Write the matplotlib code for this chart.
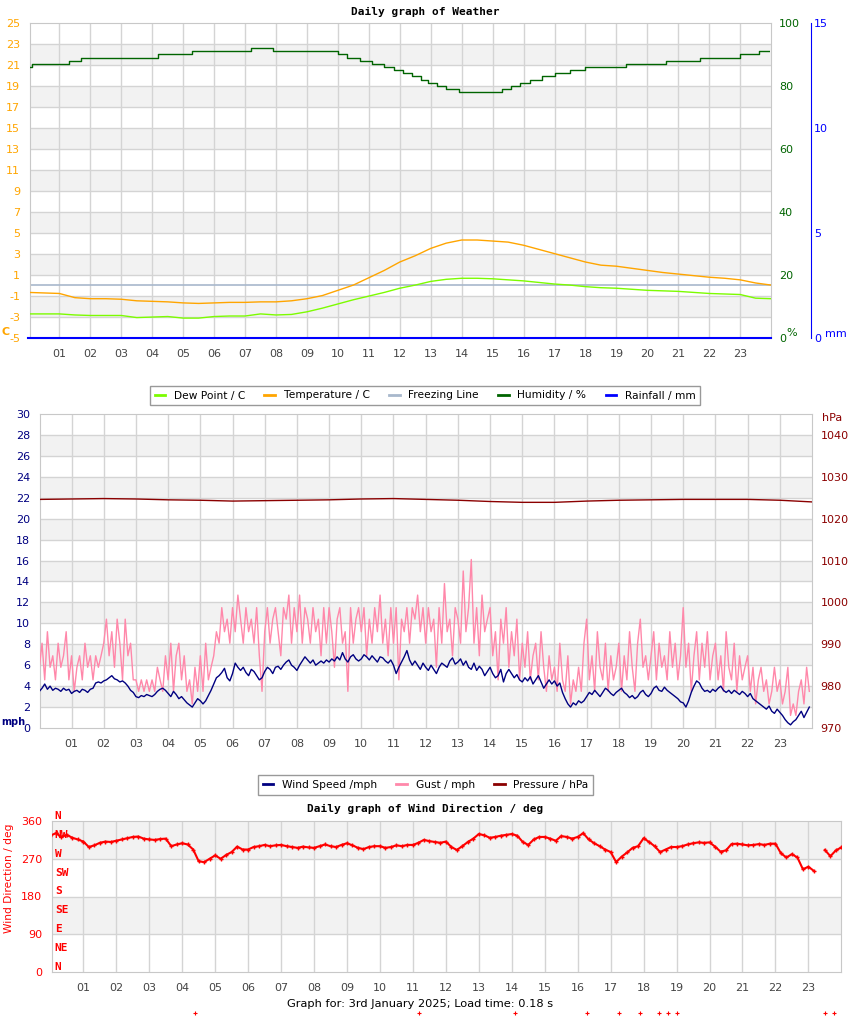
import numpy as np
import matplotlib
matplotlib.use("Agg")
from matplotlib import pyplot as plt
from matplotlib.lines import Line2D

plt.rcParams["axes.unicode_minus"] = False
W, H = 850, 1017

# ---------------- data ----------------
hours_half = np.arange(49) / 2.0
temperature = [-0.7, -0.75, -0.8, -1.2, -1.3, -1.3, -1.35, -1.5, -1.55, -1.6, -1.7, -1.75,
               -1.7, -1.65, -1.65, -1.6, -1.6, -1.5, -1.3, -1.0, -0.5, 0.0, 0.7, 1.4,
               2.2, 2.8, 3.5, 4.0, 4.3, 4.3, 4.2, 4.1, 3.8, 3.4, 3.0, 2.6,
               2.2, 1.9, 1.8, 1.6, 1.4, 1.2, 1.05, 0.9, 0.75, 0.65, 0.5, 0.2, 0.0]
dew_point = [-2.75, -2.75, -2.75, -2.85, -2.9, -2.9, -2.9, -3.1, -3.05, -3.0, -3.15, -3.15,
             -3.0, -2.95, -2.95, -2.75, -2.85, -2.8, -2.55, -2.2, -1.8, -1.4, -1.05, -0.7,
             -0.3, 0.0, 0.35, 0.55, 0.65, 0.65, 0.6, 0.5, 0.4, 0.25, 0.1, 0.0,
             -0.15, -0.25, -0.3, -0.4, -0.5, -0.55, -0.6, -0.7, -0.8, -0.85, -0.9, -1.25, -1.3]

hum_time = [0.0, 0.1, 1.3, 1.7, 4.2, 5.3, 7.2, 7.9, 10.0, 10.3, 10.7, 11.1, 11.5, 11.8,
            12.1, 12.4, 12.7, 12.9, 13.2, 13.5, 13.9, 15.3, 15.6, 15.9, 16.2, 16.6,
            17.0, 17.5, 18.0, 19.3, 20.6, 21.7, 23.0, 23.6, 24.0]
humidity = [86, 87, 88, 89, 90, 91, 92, 91, 90, 89, 88, 87, 86, 85,
            84, 83, 82, 81, 80, 79, 78, 79, 80, 81, 82, 83,
            84, 85, 86, 87, 88, 89, 90, 91, 91]

rain_time = [0.0, 24.0]
rainfall = [0.0, 0.0]

hours_5min = np.arange(288) / 12.0
gust = [5.8, 8.1, 4.6, 9.2, 5.8, 6.9, 4.6, 8.1, 5.8, 6.9, 9.2, 4.6,
        6.9, 3.5, 5.8, 6.9, 4.6, 8.1, 5.8, 6.9, 4.6, 6.9, 5.8, 6.9,
        8.1, 10.4, 6.9, 9.2, 5.8, 10.4, 8.1, 4.6, 10.4, 6.9, 8.1, 4.6,
        4.6, 3.5, 4.6, 3.5, 4.6, 3.5, 4.6, 3.5, 5.8, 4.6, 3.5, 6.9,
        4.6, 8.1, 3.5, 6.9, 8.1, 4.6, 6.9, 3.5, 4.6, 2.3, 5.8, 3.5,
        6.9, 3.5, 8.1, 4.6, 5.8, 6.9, 9.2, 8.1, 11.5, 9.2, 10.4, 8.1,
        11.5, 9.2, 12.7, 10.4, 8.1, 11.5, 9.2, 10.4, 8.1, 11.5, 6.9, 3.5,
        9.2, 11.5, 8.1, 10.4, 11.5, 9.2, 6.9, 11.5, 10.4, 12.7, 8.1, 11.5,
        9.2, 12.7, 8.1, 11.5, 10.4, 8.1, 11.5, 9.2, 10.4, 6.9, 11.5, 8.1,
        11.5, 9.2, 5.8, 10.4, 11.5, 8.1, 9.2, 3.5, 11.5, 8.1, 10.4, 11.5,
        9.2, 11.5, 6.9, 10.4, 8.1, 11.5, 9.2, 12.7, 8.1, 10.4, 6.9, 11.5,
        8.1, 11.5, 4.6, 10.4, 9.2, 11.5, 8.1, 11.5, 10.4, 12.7, 9.2, 11.5,
        8.1, 11.5, 9.2, 10.4, 5.8, 11.5, 8.1, 13.8, 9.2, 10.4, 6.9, 11.5,
        10.4, 8.1, 15.0, 9.2, 11.5, 16.1, 8.1, 11.5, 6.9, 12.7, 9.2, 10.4,
        11.5, 6.9, 9.2, 4.6, 10.4, 8.1, 11.5, 5.8, 9.2, 6.9, 10.4, 4.6,
        8.1, 5.8, 9.2, 4.6, 6.9, 8.1, 4.6, 9.2, 5.8, 3.5, 6.9, 4.6,
        5.8, 3.5, 8.1, 4.6, 3.5, 6.9, 2.3, 4.6, 3.5, 5.8, 3.5, 8.1,
        10.4, 4.6, 6.9, 3.5, 9.2, 5.8, 4.6, 8.1, 3.5, 6.9, 4.6, 5.8,
        8.1, 3.5, 6.9, 4.6, 9.2, 5.8, 3.5, 8.1, 10.4, 5.8, 6.9, 4.6,
        6.9, 9.2, 4.6, 8.1, 5.8, 6.9, 4.6, 9.2, 5.8, 8.1, 4.6, 6.9,
        11.5, 5.8, 8.1, 3.5, 6.9, 9.2, 4.6, 8.1, 5.8, 9.2, 4.6, 6.9,
        8.1, 4.6, 6.9, 3.5, 9.2, 5.8, 4.6, 8.1, 3.5, 6.9, 4.6, 5.8,
        6.9, 3.5, 5.8, 2.3, 4.6, 5.8, 3.5, 4.6, 2.3, 3.5, 5.8, 3.5,
        4.6, 2.3, 3.5, 5.8, 1.2, 2.3, 1.2, 3.5, 4.6, 2.3, 5.8, 3.5]
wind_speed = [3.5, 3.8, 4.2, 3.7, 4.0, 3.6, 3.8, 3.7, 3.5, 3.8, 3.6, 3.7,
              3.3, 3.5, 3.6, 3.4, 3.7, 3.6, 3.4, 3.7, 3.8, 4.3, 4.4, 4.3,
              4.5, 4.6, 4.8, 5.0, 4.7, 4.6, 4.4, 4.5, 4.3, 4.0, 3.6, 3.4,
              3.0, 2.9, 3.1, 3.0, 3.2, 3.1, 3.0, 3.2, 3.5, 3.7, 3.8, 3.6,
              3.3, 3.0, 3.5, 3.2, 2.8, 3.0, 2.7, 2.4, 2.2, 2.0, 2.4, 2.8,
              2.6, 2.3, 2.6, 3.1, 3.6, 4.2, 4.8, 5.0, 5.3, 5.7, 4.8, 4.5,
              5.2, 6.2, 5.8, 5.5, 5.8, 5.3, 5.0, 5.6, 5.4, 5.0, 4.6, 4.8,
              5.4, 5.8, 5.6, 5.2, 5.8, 5.9, 5.6, 6.0, 6.3, 6.5, 6.0, 5.8,
              5.5, 6.0, 6.4, 6.8, 6.5, 6.2, 6.5, 6.0, 6.2, 6.4, 6.2, 6.5,
              6.3, 6.6, 6.4, 6.8, 6.5, 7.2, 6.6, 6.3, 6.8, 7.0, 6.6, 6.4,
              6.6, 7.0, 6.8, 6.5, 6.9, 6.6, 6.3, 6.8, 6.7, 6.4, 6.2, 6.5,
              6.0, 5.2, 5.8, 6.3, 6.8, 7.4, 6.5, 6.0, 6.4, 6.0, 5.6, 6.2,
              5.8, 5.5, 6.0, 5.6, 5.2, 5.8, 6.2, 6.0, 5.8, 6.4, 6.7, 6.1,
              6.3, 6.6, 6.0, 6.4, 5.8, 5.6, 6.2, 5.5, 5.9, 5.6, 5.0, 5.4,
              5.8, 5.2, 4.8, 5.0, 5.6, 4.4, 5.2, 5.6, 5.2, 4.8, 5.1, 4.6,
              4.4, 4.8, 4.5, 4.9, 4.2, 4.6, 5.0, 4.4, 3.8, 4.2, 4.6, 4.2,
              4.5, 4.0, 4.3, 3.4, 2.8, 2.3, 2.0, 2.4, 2.2, 2.6, 2.4, 2.6,
              3.0, 3.4, 3.2, 3.6, 3.3, 3.0, 3.4, 3.8, 3.6, 3.3, 3.1, 3.4,
              3.6, 3.8, 3.4, 3.2, 2.9, 3.1, 2.8, 3.0, 3.4, 3.6, 3.2, 3.0,
              3.3, 3.8, 4.0, 3.6, 3.5, 3.9, 3.6, 3.4, 3.2, 3.0, 2.8, 2.5,
              2.4, 2.0, 2.6, 3.4, 4.0, 4.5, 4.3, 3.8, 3.5, 3.6, 3.4, 3.7,
              3.5, 3.8, 4.0, 3.6, 3.4, 3.6, 3.3, 3.6, 3.4, 3.2, 3.5, 3.3,
              3.0, 3.3, 2.8, 2.6, 2.4, 2.2, 2.0, 1.8, 2.1, 1.6, 1.4, 1.8,
              1.5, 1.2, 0.8, 0.5, 0.3, 0.6, 0.8, 1.2, 1.6, 1.0, 1.5, 2.0]

hours_1h = np.arange(25)
pressure = [1024.6, 1024.7, 1024.8, 1024.7, 1024.5, 1024.4, 1024.2, 1024.3, 1024.4,
            1024.5, 1024.7, 1024.8, 1024.6, 1024.4, 1024.1, 1023.9, 1023.9, 1024.2,
            1024.4, 1024.5, 1024.6, 1024.6, 1024.6, 1024.4, 1024.0]

hours_10min = np.arange(145) / 6.0
wind_dir = [325, 331, 322, 327, 320, 316,
            311, 298, 302, 308, 311, 310,
            313, 316, 319, 322, 323, 318,
            316, 315, 317, 318, 300, 304,
            307, 304, 292, 264, 262, 270,
            278, 270, 279, 286, 299, 292,
            292, 298, 300, 303, 300, 302,
            303, 300, 298, 296, 299, 297,
            296, 300, 304, 300, 298, 303,
            307, 302, 296, 293, 298, 300,
            300, 296, 298, 302, 300, 303,
            303, 308, 315, 312, 310, 308,
            311, 298, 291, 300, 310, 318,
            329, 326, 320, 322, 325, 327,
            329, 325, 310, 303, 316, 322,
            322, 318, 313, 324, 322, 318,
            322, 331, 316, 307, 300, 292,
            286, 262, 275, 285, 296, 300,
            319, 310, 300, 286, 292, 298,
            298, 300, 304, 307, 309, 308,
            309, 299, 287, 290, 305, 306,
            304, 302, 303, 305, 303, 306,
            306, 283, 273, 281, 273, 245,
            251, 241, np.nan, 291, 276, 290,
            297]
# readings logged below the scale
odd_time = [4.39, 11.19, 14.1, 16.28, 17.26, 17.89, 18.47, 18.75, 19.02, 23.51, 23.78]
odd_dir = [-98] * len(odd_time)

hour_labels = ["%02d" % h for h in range(1, 24)]
compass = ["N", "NE", "E", "SE", "S", "SW", "W", "NW", "N"]

# ---------------- styles ----------------
GRID = "#d4d4d4"
BAND = "#f2f2f2"
FRAME = "#c8c8c8"
TICKC = "#444444"
FS = 8
LFS = 7.7
MONO = "DejaVu Sans Mono"


def box(l, t, r, b):
    return [l / W, 1 - b / H, (r - l) / W, (b - t) / H]


def base(ax, xlim, ylim, bands, lines):
    ax.set_xlim(*xlim)
    ax.set_ylim(*ylim)
    for lo, hi in bands:
        ax.axhspan(lo, hi, color=BAND, lw=0, zorder=0)
    for v in lines:
        ax.axhline(v, color=GRID, lw=1, zorder=0.5)
    for h in range(1, 24):
        ax.axvline(h, color=GRID, lw=1, zorder=0.5)
    for s in ax.spines.values():
        s.set_color(FRAME)
    ax.set_xticks(range(1, 24))
    ax.set_xticklabels(hour_labels, color=TICKC, fontsize=FS)
    ax.tick_params(axis="both", length=0)


fig = plt.figure(figsize=(W / 100, H / 100), dpi=100)

# ---------------- panel 1 : weather ----------------
ax1 = fig.add_axes(box(30, 23, 770.5, 337.5))
base(ax1, (0.05, 23.98), (-5, 25),
     [(lo, lo + 2) for lo in range(-3, 25, 4)], range(-3, 25, 2))
ax1.set_yticks(range(-5, 26, 2))
ax1.tick_params(axis="y", labelcolor="#ffa500", labelsize=FS, pad=7)
ax1.tick_params(axis="x", pad=8)
ax1.axhline(0, color="#a8b8cc", lw=1.2, zorder=2)
ax1.plot(hours_half, dew_point, color="#7cfc00", lw=1, zorder=3)
ax1.plot(hours_half, temperature, color="#ffa500", lw=1, zorder=3)

axh = ax1.twinx()
axh.set_ylim(0, 100)
axh.set_yticks(range(0, 101, 20))
axh.tick_params(length=0, labelcolor="#006400", labelsize=FS, pad=6)
for s in axh.spines.values():
    s.set_visible(False)
axh.step(hum_time, humidity, where="post", color="#006400", lw=1, zorder=3)

axr = ax1.twinx()
axr.set_ylim(0, 15)
axr.set_yticks([0, 5, 10, 15])
axr.spines["right"].set_position(("axes", 1.0547))
for k in ("top", "bottom", "left"):
    axr.spines[k].set_visible(False)
axr.spines["right"].set_color("blue")
axr.tick_params(length=0, labelcolor="blue", labelsize=FS, pad=2)
axr.plot(rain_time, rainfall, color="blue", lw=1.5, zorder=4, clip_on=False)

fig.text(425 / W, 1 - 12 / H, "Daily graph of Weather", family=MONO, weight="bold",
         fontsize=8, ha="center", va="center")
fig.text(2 / W, 1 - 332 / H, "C", color="#ffa500", weight="bold", fontsize=FS,
         ha="left", va="center")
fig.text(786 / W, 1 - 333 / H, "%", color="#006400", fontsize=FS, ha="left", va="center")
fig.text(825 / W, 1 - 334 / H, "mm", color="blue", fontsize=FS, ha="left", va="center")

# hidden title of panel 2 (under the legend)
fig.text(346 / W, 1 - 401 / H, "Daily graph of Wind / mph", family=MONO, weight="bold",
         fontsize=8, ha="left", va="center")

leg1 = [Line2D([], [], color=c, lw=2) for c in
        ("#7cfc00", "#ffa500", "#a8b8cc", "#006400", "blue")]
fig.legend(leg1, ["Dew Point / C", "Temperature / C", "Freezing Line", "Humidity / %",
                  "Rainfall / mm"],
           loc="center", bbox_to_anchor=(425 / W, 1 - 395.5 / H), ncol=5, fontsize=LFS,
           frameon=True, fancybox=False, edgecolor="#999999", framealpha=1,
           handlelength=1.0, handletextpad=0.8, columnspacing=1.8, borderpad=0.45,
           borderaxespad=0)

# ---------------- panel 2 : wind ----------------
ax2 = fig.add_axes(box(40, 414, 812, 728))
base(ax2, (0.02, 24), (0, 30),
     [(lo, lo + 2) for lo in range(2, 30, 4)], range(2, 30, 2))
ax2.set_yticks(range(0, 31, 2))
ax2.tick_params(axis="y", labelcolor="#000080", labelsize=FS, pad=7)
ax2.tick_params(axis="x", pad=8)
ax2.plot(hours_5min, gust, color="#ff88aa", lw=1, zorder=3)
ax2.plot(hours_5min, wind_speed, color="#000080", lw=1, zorder=4)

axp = ax2.twinx()
axp.set_ylim(970, 1045)
axp.set_yticks(range(970, 1041, 10))
axp.tick_params(length=0, labelcolor="#8b0000", labelsize=FS, pad=6)
for s in axp.spines.values():
    s.set_visible(False)
axp.plot(hours_1h, pressure, color="#8b0000", lw=1, zorder=3)

fig.text(1 / W, 1 - 722 / H, "mph", color="#000080", weight="bold", fontsize=7,
         ha="left", va="center")
fig.text(822 / W, 1 - 418 / H, "hPa", color="#8b0000", fontsize=FS, ha="left", va="center")

leg2 = [Line2D([], [], color=c, lw=2) for c in ("#000080", "#ff88aa", "#8b0000")]
fig.legend(leg2, ["Wind Speed /mph", "Gust / mph", "Pressure / hPa"],
           loc="center", bbox_to_anchor=(425.5 / W, 1 - 785 / H), ncol=3, fontsize=LFS,
           frameon=True, fancybox=False, edgecolor="#999999", framealpha=1,
           handlelength=1.0, handletextpad=0.8, columnspacing=1.8, borderpad=0.45,
           borderaxespad=0)

# ---------------- panel 3 : wind direction ----------------
ax3 = fig.add_axes(box(51.7, 821, 840.7, 972))
base(ax3, (0.04, 23.98), (0, 360), [(90, 180), (270, 360)], [90, 180, 270])
ax3.set_yticks(range(0, 361, 90))
ax3.tick_params(axis="y", labelcolor="red", labelsize=FS, pad=7)
ax3.tick_params(axis="x", pad=8)
ax3.plot(hours_10min, wind_dir, color="red", lw=1.5, marker="+", ms=3.5, mew=1, zorder=3)
ax3.plot(odd_time, odd_dir, ls="none", color="red", marker="+", ms=3, mew=0.8,
         clip_on=False)
for i, name in enumerate(compass):
    ax3.text(0.004, i * 45, name, transform=ax3.get_yaxis_transform(), color="red",
             family=MONO, weight="bold", fontsize=8, ha="left", va="bottom", zorder=5)

fig.text(425 / W, 1 - 809 / H, "Daily graph of Wind Direction / deg", family=MONO,
         weight="bold", fontsize=8, ha="center", va="center")
fig.text(9 / W, 1 - 878 / H, "Wind Direction / deg", color="red", fontsize=LFS,
         rotation=90, ha="center", va="center")
fig.text(420 / W, 1 - 1004 / H, "Graph for: 3rd January 2025; Load time: 0.18 s",
         fontsize=8.2, ha="center", va="center")

fig.savefig("out.png", dpi=100)
